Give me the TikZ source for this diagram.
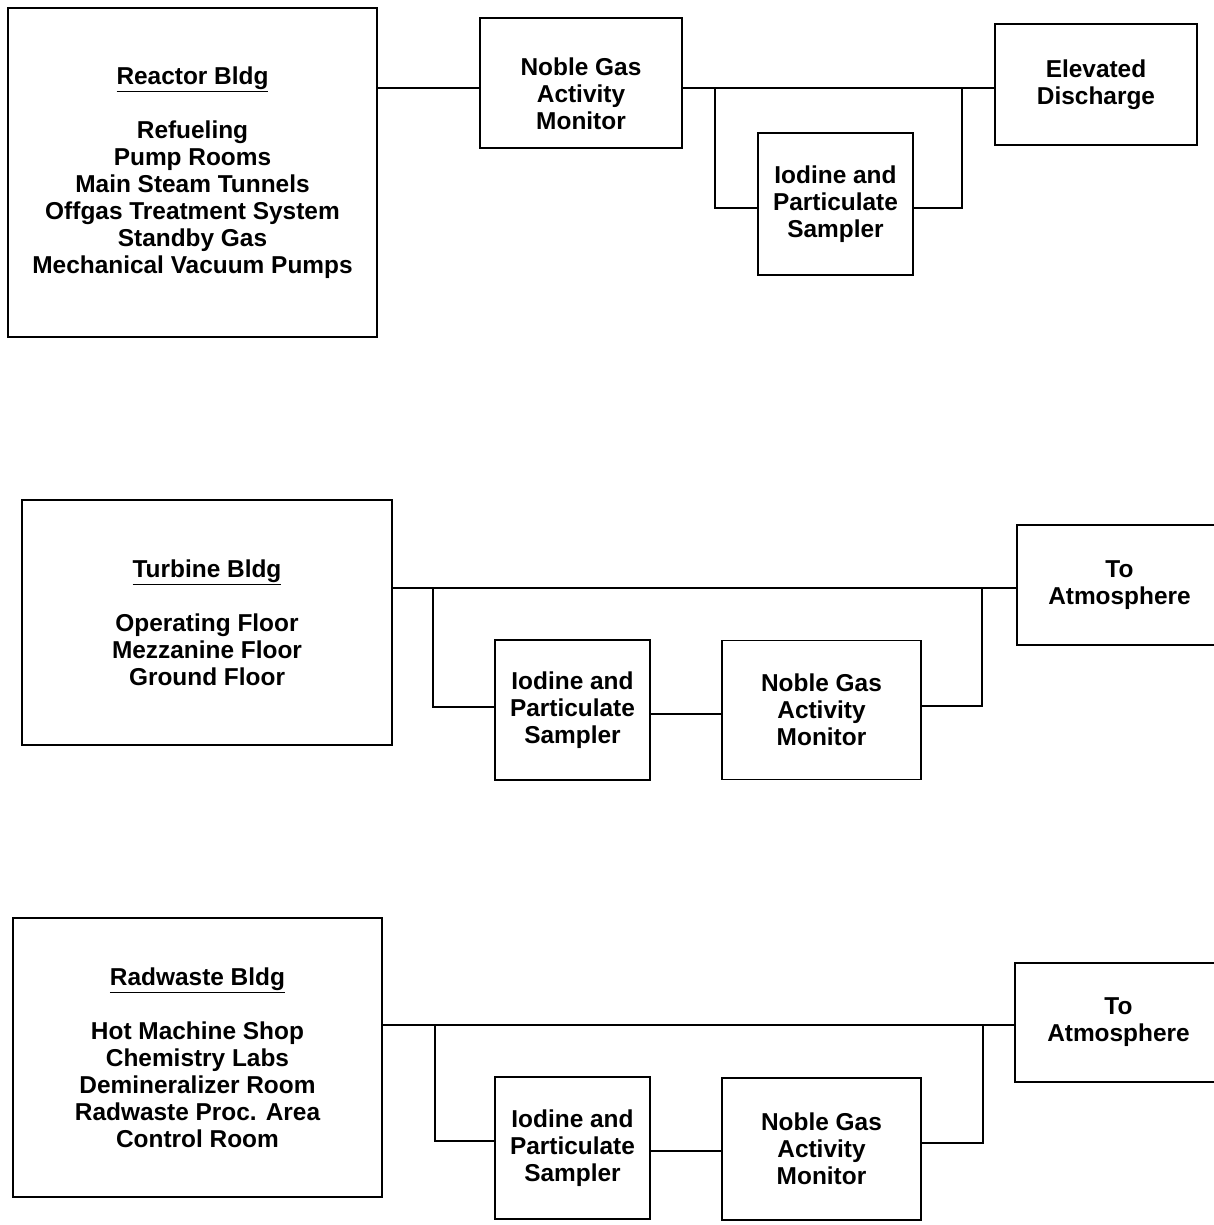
\documentclass[tikz,border=0pt]{standalone}
\usepackage{fontspec}
\setmainfont{Liberation Sans}
\usetikzlibrary{positioning,calc}

\begin{document}
\begin{tikzpicture}[
    x=0.02cm, y=-0.02cm,
    box/.style={
        rectangle,
        draw,
        line width=0.8pt,
        align=center,
        inner sep=0pt,
        font=\fontsize{13.9}{15.4}\selectfont\bfseries
    },
    pipe/.style={line width=0.8pt}
]
    \useasboundingbox (0,0) rectangle (1214,1225);

    % Reactor building train
    \node[box, minimum width=7.38cm, minimum height=6.58cm] (reactor) at (192.5,172.5) {
        \underline{Reactor Bldg}\\[15.4pt]
        Refueling\\
        Pump Rooms\\
        Main Steam Tunnels\\
        Offgas Treatment System\\
        Standby Gas\\
        Mechanical Vacuum Pumps
    };
    \node[box, minimum width=4.04cm, minimum height=2.6cm] (noble1) at (581,83) {\mbox{}\\[7pt]Noble Gas\\Activity\\Monitor};
    \node[box, minimum width=4.04cm, minimum height=2.42cm] (elevated) at (1096,84.5) {Elevated\\Discharge};
    \node[box, minimum width=3.1cm, minimum height=2.84cm] (iodine1) at (835.5,204) {Iodine and\\Particulate\\Sampler};

    \coordinate (tap1) at ($(noble1.west)+(0,5)$);
    \coordinate (out1) at ($(noble1.east)+(0,5)$);
    \draw[pipe] (reactor.east |- tap1) -- (tap1);
    \draw[pipe] (out1) -- (elevated.west |- out1);
    \coordinate (split1) at (715,88);
    \coordinate (join1) at (962,88);
    \draw[pipe] (split1) |- ($(iodine1.west)+(0,4)$);
    \draw[pipe] ($(iodine1.east)+(0,4)$) -| (join1);

    % Turbine building train
    \node[box, minimum width=7.4cm, minimum height=4.9cm] (turbine) at (207,622.5) {
        \underline{Turbine Bldg}\\[15.4pt]
        Operating Floor\\
        Mezzanine Floor\\
        Ground Floor
    };
    \node[box, minimum width=4.1cm, minimum height=2.4cm] (atmos1) at (1119.5,585) {To\\Atmosphere};
    \node[box, minimum width=3.1cm, minimum height=2.8cm] (iodine2) at (572.5,710) {Iodine and\\Particulate\\Sampler};
    \node[box, minimum width=3.98cm, minimum height=2.78cm] (noble2) at (821.5,710) {Noble Gas\\Activity\\Monitor};

    \coordinate (tap2) at ($(atmos1.west)+(0,3)$);
    \draw[pipe] (turbine.east |- tap2) -- (tap2);
    \coordinate (split2) at (433,588);
    \coordinate (join2) at (982,588);
    \draw[pipe] (split2) |- ($(iodine2.west)+(0,-3)$);
    \draw[pipe] ($(iodine2.east)+(0,4)$) -- ($(noble2.west)+(0,4)$);
    \draw[pipe] ($(noble2.east)+(0,-4)$) -| (join2);

    % Radwaste building train
    \node[box, minimum width=7.38cm, minimum height=5.58cm] (radwaste) at (197.5,1057.5) {
        \underline{Radwaste Bldg}\\[15.4pt]
        Hot Machine Shop\\
        Chemistry Labs\\
        Demineralizer Room\\
        Radwaste Proc. Area\\
        Control Room
    };
    \node[box, minimum width=4.14cm, minimum height=2.38cm] (atmos2) at (1118.5,1022.5) {To\\Atmosphere};
    \node[box, minimum width=3.1cm, minimum height=2.84cm] (iodine3) at (572.5,1148) {Iodine and\\Particulate\\Sampler};
    \node[box, minimum width=3.98cm, minimum height=2.84cm] (noble3) at (821.5,1149) {Noble Gas\\Activity\\Monitor};

    \coordinate (tap3) at ($(atmos2.west)+(0,2.5)$);
    \draw[pipe] (radwaste.east |- tap3) -- (tap3);
    \coordinate (split3) at (435,1025);
    \coordinate (join3) at (983,1025);
    \draw[pipe] (split3) |- ($(iodine3.west)+(0,-7)$);
    \draw[pipe] ($(iodine3.east)+(0,3)$) -- (noble3.west |- {$(iodine3.east)+(0,3)$});
    \draw[pipe] ($(noble3.east)+(0,-6)$) -| (join3);
\end{tikzpicture}
\end{document}
